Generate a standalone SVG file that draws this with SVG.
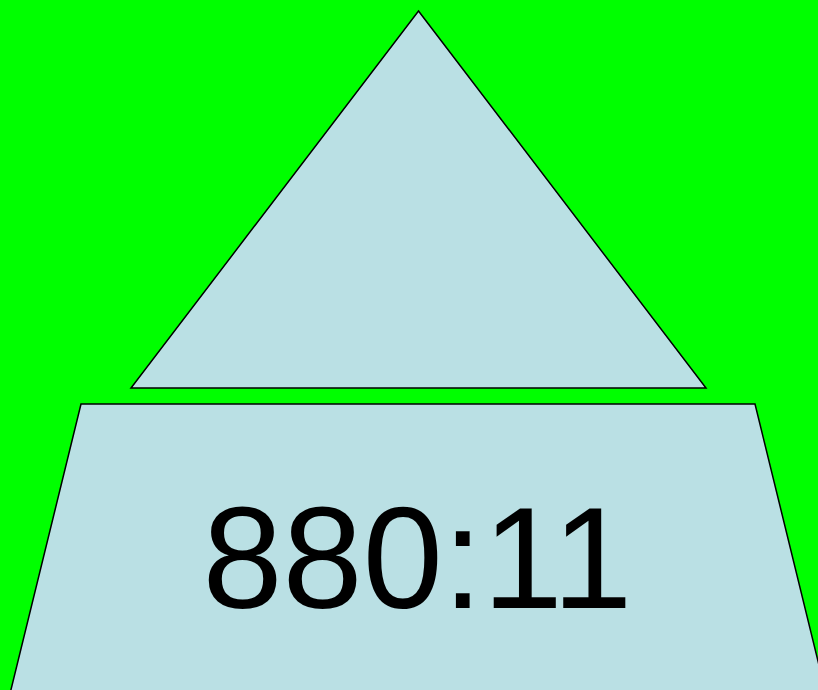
<svg xmlns="http://www.w3.org/2000/svg" width="818" height="690" viewBox="0 0 818 690">
<style>
.shape{fill:#BAE0E4;stroke:#000;stroke-width:1.5;stroke-linejoin:miter}
.lbl{font-family:"Liberation Sans",Arial,sans-serif;font-size:144px;fill:#000}
</style>
<rect x="0" y="0" width="818" height="690" fill="#00FF00"/>
<g id="triangle">
<polygon class="shape" points="418.5,11 706,388 131,388"/>
</g>
<g id="trapezoid">
<polygon class="shape" points="81,404 755,404 830,710 6,710"/>
<text class="lbl" x="202.5 282.6 362.7 442.8 482.8 552.2" y="608">880:11</text>
</g>
<g id="connectors"></g>
</svg>
